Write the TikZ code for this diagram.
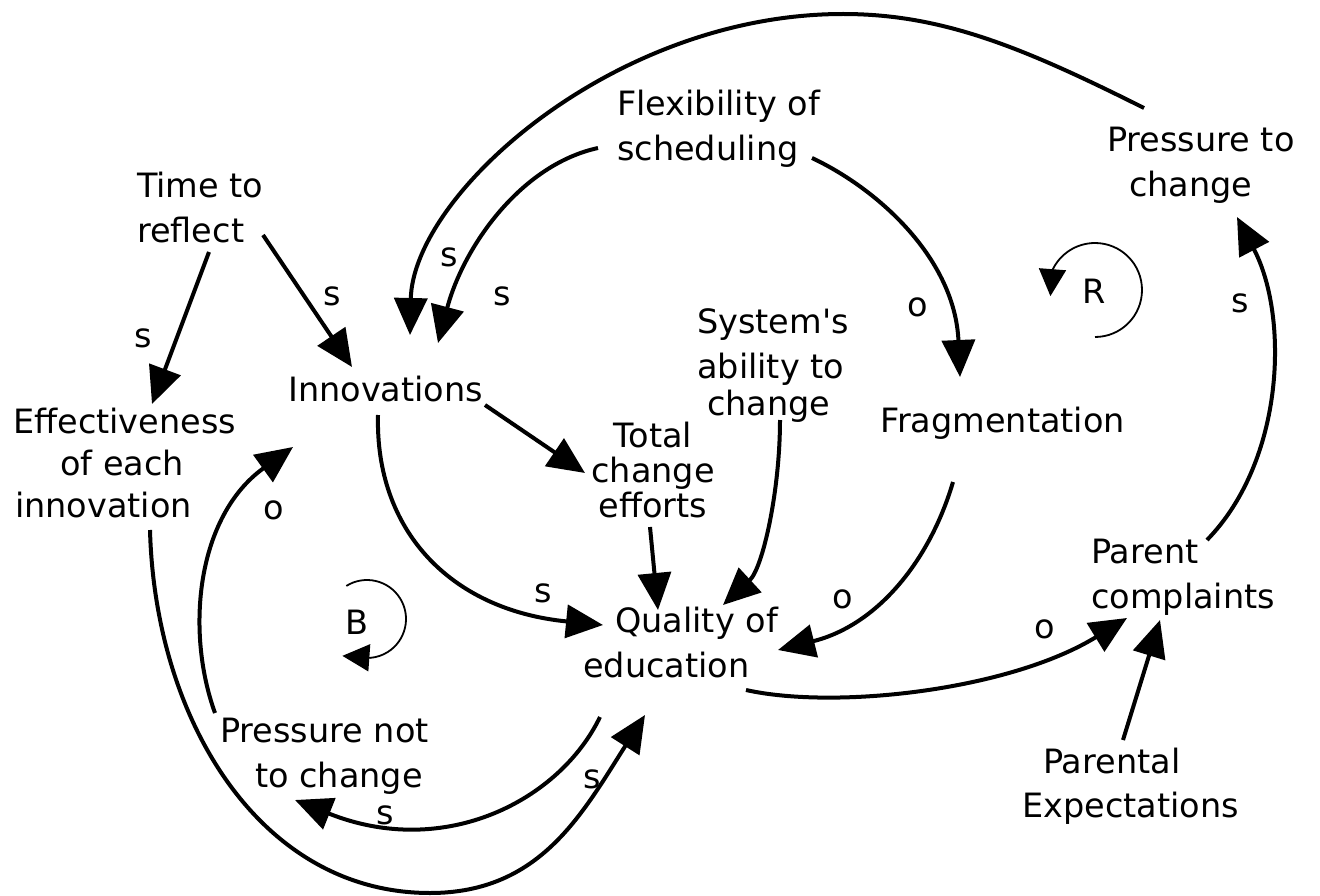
\documentclass[tikz,border=0pt]{standalone}
\usepackage{fontspec}
\setmainfont{DejaVu Sans}
\usetikzlibrary{arrows.meta}
% straight apostrophe, set as a glyph so that no TeX ligature mapping curls it
\newcommand{\upquote}{{\XeTeXglyph\XeTeXcharglyph"27\relax}}
\begin{document}
\begin{tikzpicture}[x=1pt,y=-1pt,
  txt/.style={inner sep=0pt, anchor=north west, align=left,
              font=\fontsize{33.5}{45}\selectfont},
  lbl/.style={inner sep=0pt, font=\fontsize{33.5}{40}\selectfont},
  link/.style={line width=4pt, -{Triangle[length=37pt,width=33pt]}},
  loopline/.style={line width=1.8pt, -{Triangle[length=27pt,width=27pt]}},
]
\fill[white] (0,0) rectangle (1320,896);
\useasboundingbox (0,0) rectangle (1320,896);

% variables
\node[txt] (time)  at (137,172) {Time to\\reflect};
\node[txt] (flex)  at (617,90)  {Flexibility of\\scheduling};
\node[txt] (pchg)  at (1107,127) {Pressure to\\\hspace*{22pt}change};
\node[txt] (innov) at (288,376) {Innovations};
\node[txt,font=\fontsize{33.5}{42}\selectfont] (eff) at (13,408)
      {Effectiveness\\\hspace*{47pt}of each\\\hspace*{2pt}innovation};
\node[txt,anchor=north,align=center,font=\fontsize{33.5}{35}\selectfont] (total) at (653,422)
      {Total\\change\\efforts};
\node[txt] (sys)   at (697,308) {System\upquote s\\ability to\\[-8pt]\hspace*{10pt}change};
\node[txt] (frag)  at (880,407) {Fragmentation};
\node[txt] (qual)  at (583,607) {\hspace*{32pt}Quality of\\education};
\node[txt] (pnot)  at (220,718) {Pressure not\\\hspace*{35pt}to change};
\node[txt] (parc)  at (1091,539) {Parent\\complaints};
\node[txt,font=\fontsize{33.5}{44}\selectfont] (pexp) at (1022,748)
      {\hspace*{21pt}Parental\\Expectations};

% links
\draw[link] ([shift={(72,80)}]time.north west) -- ([shift={(139,-4)}]eff.north west);
\draw[link] ([shift={(126,63)}]time.north west) -- ([shift={(64,-9)}]innov.north west);
\draw[link] ([shift={(37,-19)}]pchg.north west)
   .. controls +(-120,-60) and +(100,0) .. ([shift={(226,-76)}]flex.north west)
   .. controls +(-230,0) and +(3,-140) .. ([shift={(122,-41)}]innov.north west);
\draw[link] ([shift={(-19,58)}]flex.north west)
   .. controls +(-78,17) and +(25,-95) .. ([shift={(150,-33)}]innov.north west);
\draw[link] ([shift={(195,68)}]flex.north west)
   .. controls +(68,32) and +(-5,-117) .. ([shift={(80,-30)}]frag.north west);
\draw[link] ([shift={(116,1)}]parc.north west)
   .. controls +(78,-80) and +(52,99) .. ([shift={(130,90)}]pchg.north west);
\draw[link] ([shift={(197,29)}]innov.north west) -- ([shift={(-68,51)}]total.north);
\draw[link] ([shift={(90,39)}]innov.north west)
   .. controls +(-3,115) and +(-153,-15) .. ([shift={(20,18)}]qual.north west);
\draw[link] ([shift={(-3,105)}]total.north) -- ([shift={(75,3)}]qual.north west);
\draw[link] ([shift={(83,112)}]sys.north west)
   .. controls +(0,70) and +(40,-37) .. ([shift={(140,-2)}]qual.north west);
\draw[link] ([shift={(73,75)}]frag.north west)
   .. controls +(-23,78) and +(100,-25) .. ([shift={(195,43)}]qual.north west);
\draw[link] ([shift={(163,83)}]qual.north west)
   .. controls +(90,20) and +(-117,72) .. ([shift={(36,79)}]parc.north west);
\draw[link] ([shift={(101,-8)}]pexp.north west) -- ([shift={(69,81)}]parc.north west);
\draw[link] ([shift={(-5,-5)}]pnot.north west)
   .. controls +(-30,-83) and +(-96,69) .. ([shift={(5,71)}]innov.north west);
\draw[link] ([shift={(137,122)}]eff.north west)
   .. controls +(5,190) and +(-170,0) .. ([shift={(210,175)}]pnot.north west)
   .. controls +(110,0) and +(-63,99) .. ([shift={(62,108)}]qual.north west);
\draw[link] ([shift={(17,110)}]qual.north west)
   .. controls +(-40,83) and +(150,60) .. ([shift={(75,82)}]pnot.north west);

% link polarities
\node[lbl] (l1)  at (332,296) {s};
\node[lbl] (l2)  at (143,338) {s};
\node[lbl] (l3)  at (449,257) {s};
\node[lbl] (l4)  at (502,296) {s};
\node[lbl] (l5)  at (918,307) {o};
\node[lbl] (l6)  at (1240,303) {s};
\node[lbl] (l7)  at (274,510) {o};
\node[lbl] (l8)  at (543,593) {s};
\node[lbl] (l9)  at (843,599) {o};
\node[lbl] (l10) at (1045,629) {o};
\node[lbl] (l11) at (385,815) {s};
\node[lbl] (l12) at (592,779) {s};

% loop markers
\node[lbl] (B) at (357,622) {B};
\node[lbl] (R) at (1094,291) {R};
\draw[loopline] ([shift={(10,-3)}]B.center) ++(-122:39)
   arc[start angle=-122, end angle=85, radius=39] -- ++(-28,-2);
\draw[loopline] ([shift={(1,-1)}]R.center) ++(90:47)
   arc[start angle=90, end angle=-155, radius=47] -- ++(-2,26);
\end{tikzpicture}
\end{document}
